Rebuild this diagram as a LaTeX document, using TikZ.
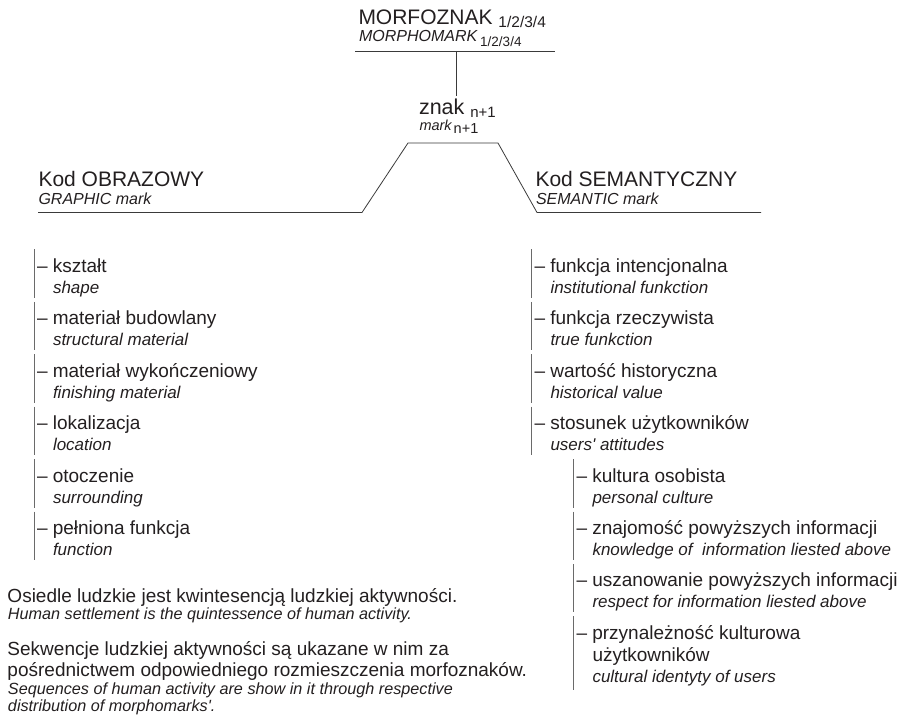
\documentclass[tikz,border=0pt]{standalone}
\usepackage{fontspec}
\setmainfont{Liberation Sans}
\definecolor{ink}{HTML}{231F20}
\definecolor{rulec}{HTML}{3A3A3A}
\definecolor{barc}{HTML}{6A6A6A}
\newcommand\lowsub[3]{\raisebox{-#1pt}{\fontsize{#2}{#2}\selectfont\upshape #3}}
\begin{document}
\begin{tikzpicture}[x=1pt,y=-1pt,
  every node/.style={inner sep=0pt, outer sep=0pt, anchor=base west, text=ink},
  big/.style={font=\fontsize{21}{25}\selectfont},
  pl/.style={font=\fontsize{19}{22}\selectfont},
  hd/.style={font=\fontsize{16}{19}\selectfont\itshape},
  en/.style={font=\fontsize{17}{20}\selectfont\itshape},
  enb/.style={font=\fontsize{16.2}{19}\selectfont\itshape},
  ln/.style={draw=rulec, line width=0.8pt},
  bar/.style={draw=barc, line width=1pt}]
\useasboundingbox (0,0) rectangle (903,719);

% title
\node[big] (morf) at (358.5,24.5) {MORFOZNAK \lowsub{3.3}{15.5}{1/2/3/4}};
\node[font=\fontsize{16}{19}\selectfont\itshape] (morph) at (359,41.5) {MORPHOMARK\hspace{3pt}\lowsub{5}{13.5}{1/2/3/4}};
\coordinate (tl) at (355,51);
\coordinate (tr) at (555,51);
\draw[ln] (tl) -- (tr);
\coordinate (stem) at (456,51);
\coordinate (stemend) at (456,96);
\draw[ln] (stem) -- (stemend);

\node[font=\fontsize{21.5}{25}\selectfont] (znak) at (419,115) {znak \lowsub{3}{15}{n+1}};
\node[font=\fontsize{14.5}{17}\selectfont\itshape] (mark) at (419.5,131) {mark\hspace{2pt}\lowsub{3}{14.5}{n+1}};

% trapezoid
\coordinate (L0) at (38,212.5);
\coordinate (L1) at (362,212.5);
\coordinate (T1) at (408,143);
\coordinate (T2) at (498,143);
\coordinate (R1) at (537,212.5);
\coordinate (R0) at (761,212.5);
\draw[ln] (L0) -- (L1) -- (T1) -- (T2) -- (R1) -- (R0);

% headers
\node[big] (kodo) at (38.5,187) {Kod OBRAZOWY};
\node[hd] (graph) at (38.5,205) {GRAPHIC mark};
\node[big] (kods) at (535.5,187) {Kod SEMANTYCZNY};
\node[hd] (sem) at (536,205) {SEMANTIC mark};

% left list
\foreach \pltxt/\entxt [count=\i] in {
  {– kształt}/{shape},
  {– materiał budowlany}/{structural material},
  {– materiał wykończeniowy}/{finishing material},
  {– lokalizacja}/{location},
  {– otoczenie}/{surrounding},
  {– pełniona funkcja}/{function}}{
  \pgfmathsetmacro\yb{272.5+52.4*(\i-1)}
  \draw[bar] (34.5,\yb-23) -- (34.5,\yb+25.5);
  \node[pl] (l\i) at (37,\yb) {\pltxt};
  \node[en] (le\i) at (53,\yb+21) {\entxt};
}

% right list
\foreach \pltxt/\entxt [count=\i] in {
  {– funkcja intencjonalna}/{institutional funkction},
  {– funkcja rzeczywista}/{true funkction},
  {– wartość historyczna}/{historical value},
  {– stosunek użytkowników}/{users\textquotesingle{} attitudes}}{
  \pgfmathsetmacro\yb{272.5+52.4*(\i-1)}
  \draw[bar] (531.5,\yb-23) -- (531.5,\yb+25.5);
  \node[pl] (r\i) at (534.5,\yb) {\pltxt};
  \node[en] (re\i) at (550.5,\yb+21) {\entxt};
}

% sub list
\foreach \pltxt/\entxt [count=\i] in {
  {– kultura osobista}/{personal culture},
  {– znajomość powyższych informacji}/{knowledge of~ information liested above},
  {– uszanowanie powyższych informacji}/{respect for information liested above}}{
  \pgfmathsetmacro\yb{272.5+52.4*(\i+3)}
  \draw[bar] (573.5,\yb-23) -- (573.5,\yb+25.5);
  \node[pl] (s\i) at (576.5,\yb) {\pltxt};
  \node[en] (se\i) at (592.5,\yb+21) {\entxt};
}
\pgfmathsetmacro\yl{272.5+52.4*7}
\draw[bar] (573.5,\yl-23) -- (573.5,\yl+51);
\node[pl] (s4) at (576.5,\yl) {– przynależność kulturowa};
\node[pl] (s4b) at (592.5,\yl+22) {użytkowników};
\node[en] (se4) at (592.5,\yl+43.5) {cultural identyty of users};

% bottom text
\node[pl] (b1) at (7.5,602) {Osiedle ludzkie jest kwintesencją ludzkiej aktywności.};
\node[enb] (b2) at (8,619) {Human settlement is the quintessence of human activity.};
\node[pl] (b3) at (7.5,655) {Sekwencje ludzkiej aktywności są ukazane w nim za};
\node[pl] (b4) at (7.5,676) {pośrednictwem odpowiedniego rozmieszczenia morfoznaków.};
\node[enb] (b5) at (8,694) {Sequences of human activity are show in it through respective};
\node[enb] (b6) at (8,711) {distribution of morphomarks\textquotesingle.};
\end{tikzpicture}
\end{document}
